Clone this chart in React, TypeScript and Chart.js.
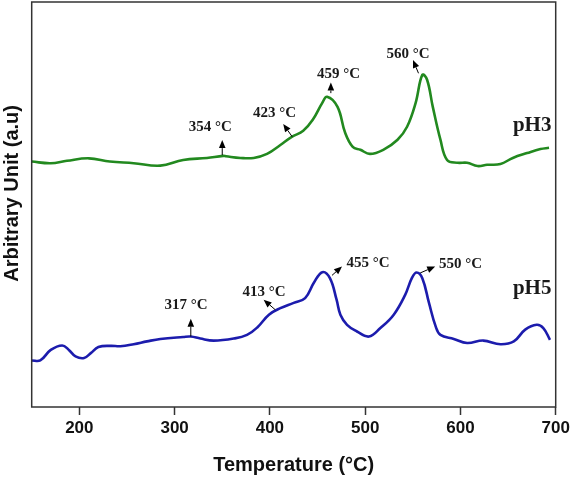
import { useEffect, useRef } from 'react';
import { Chart, registerables } from 'chart.js';

Chart.register(...registerables);

// ---- data ----
const X_TICKS = [200, 300, 400, 500, 600, 700];

const PH3_TEMP = [150, 170, 187, 210, 232, 257, 285, 309, 334, 351, 354, 369, 383, 397, 411, 423, 435, 445, 455, 460, 471, 479, 487, 495, 505, 519, 534, 544, 553, 560, 565, 571, 579, 586, 597, 607, 618, 628, 642, 655, 670, 684, 693];
const PH3_SIGNAL = [60.6, 60.2, 60.8, 61.4, 60.6, 60.2, 59.6, 61.0, 61.5, 62.0, 61.9, 61.5, 61.5, 62.5, 64.7, 66.7, 68.2, 70.9, 75.1, 76.6, 74.1, 67.7, 64.2, 63.5, 62.5, 63.5, 66.0, 69.2, 75.1, 82.0, 80.8, 74.1, 66.0, 61.0, 60.3, 60.3, 59.5, 59.8, 60.0, 61.5, 62.7, 63.7, 64.0];

const PH5_TEMP = [150, 159, 170, 182, 189, 196, 205, 212, 220, 233, 243, 257, 271, 285, 309, 317, 327, 341, 362, 376, 387, 399, 411, 425, 437, 446, 455, 463, 470, 474, 481, 491, 504, 516, 530, 542, 549, 554, 560, 567, 574, 579, 593, 607, 624, 642, 656, 668, 680, 687, 694];
const PH5_SIGNAL = [11.5, 11.5, 14.1, 15.2, 14.1, 12.5, 12.1, 13.3, 14.8, 15.1, 15.0, 15.5, 16.2, 16.8, 17.3, 17.4, 16.9, 16.4, 16.9, 17.8, 19.7, 22.8, 24.4, 25.7, 26.9, 30.6, 33.3, 31.8, 26.5, 22.8, 20.3, 18.7, 17.4, 19.5, 22.8, 27.7, 31.8, 33.2, 31.8, 25.7, 19.9, 17.8, 16.8, 15.8, 16.4, 15.5, 16.2, 19.1, 20.3, 19.5, 16.6];

// peak annotations (text anchored in data units)
const PEAK_TEXT = ['354 °C', '423 °C', '459 °C', '560 °C', '317 °C', '413 °C', '455 °C', '550 °C'];
const PEAK_TEXT_T = [337.5, 405, 472, 545, 312, 394, 503, 600];
const PEAK_TEXT_S = [69.2, 72.6, 82.2, 87.2, 25.1, 28.3, 35.6, 35.4];
const ARROW_FROM_T = [350, 423.5, 464, 556, 317, 405.7, 465.2, 557.8];
const ARROW_FROM_S = [62.2, 66.7, 77.5, 82.4, 17.4, 24.0, 32.5, 33.1];
const ARROW_TO_T = [350, 414, 464, 550.2, 317, 393.4, 475.7, 573.5];
const ARROW_TO_S = [65.9, 69.9, 80.1, 85.7, 21.8, 26.5, 34.7, 34.7];

const SERIES_NAMES = ['pH3', 'pH5'];
const SERIES_NAME_T = [675.3, 675.3];
const SERIES_NAME_S = [69.4, 29.2];

const SANS = "Arial, 'Liberation Sans', sans-serif";
const SERIF = "'Times New Roman', 'Liberation Serif', serif";

const framePlugin = {
  id: 'frame',
  afterDraw(chart: any) {
    const { ctx, chartArea: a } = chart;
    ctx.save();
    ctx.strokeStyle = '#333';
    ctx.lineWidth = 1.5;
    ctx.strokeRect(a.left, a.top, a.right - a.left, a.bottom - a.top);
    ctx.restore();
  },
};

const notesPlugin = {
  id: 'notes',
  afterDatasetsDraw(chart: any) {
    const { ctx } = chart;
    const xs = chart.scales.x;
    const ys = chart.scales.y;
    ctx.save();
    ctx.strokeStyle = '#000';
    ctx.fillStyle = '#000';
    ctx.lineWidth = 1;
    for (let i = 0; i < ARROW_FROM_T.length; i++) {
      const x0 = xs.getPixelForValue(ARROW_FROM_T[i]);
      const y0 = ys.getPixelForValue(ARROW_FROM_S[i]);
      const x1 = xs.getPixelForValue(ARROW_TO_T[i]);
      const y1 = ys.getPixelForValue(ARROW_TO_S[i]);
      const ang = Math.atan2(y1 - y0, x1 - x0);
      const hl = 8;
      const hw = 3.3;
      const bx = x1 - hl * Math.cos(ang);
      const by = y1 - hl * Math.sin(ang);
      ctx.beginPath();
      ctx.moveTo(x0, y0);
      ctx.lineTo(bx, by);
      ctx.stroke();
      ctx.beginPath();
      ctx.moveTo(x1, y1);
      ctx.lineTo(bx + hw * Math.sin(ang), by - hw * Math.cos(ang));
      ctx.lineTo(bx - hw * Math.sin(ang), by + hw * Math.cos(ang));
      ctx.closePath();
      ctx.fill();
    }
    ctx.fillStyle = '#1a1a1a';
    ctx.textAlign = 'center';
    ctx.textBaseline = 'middle';
    ctx.font = `bold 15px ${SERIF}`;
    for (let i = 0; i < PEAK_TEXT.length; i++) {
      ctx.fillText(PEAK_TEXT[i], xs.getPixelForValue(PEAK_TEXT_T[i]), ys.getPixelForValue(PEAK_TEXT_S[i]));
    }
    ctx.font = `bold 21px ${SERIF}`;
    for (let i = 0; i < SERIES_NAMES.length; i++) {
      ctx.fillText(SERIES_NAMES[i], xs.getPixelForValue(SERIES_NAME_T[i]), ys.getPixelForValue(SERIES_NAME_S[i]));
    }
    ctx.restore();
  },
};

export default function App() {
  const ref = useRef<HTMLCanvasElement | null>(null);

  useEffect(() => {
    if (!ref.current) return;
    const chart = new Chart(ref.current, {
      type: 'line',
      data: {
        datasets: [
          {
            label: 'pH3',
            data: PH3_TEMP.map((t, i) => ({ x: t, y: PH3_SIGNAL[i] })),
            borderColor: '#22891f',
            borderWidth: 2.6,
            pointRadius: 0,
            tension: 0.4,
            fill: false,
          },
          {
            label: 'pH5',
            data: PH5_TEMP.map((t, i) => ({ x: t, y: PH5_SIGNAL[i] })),
            borderColor: '#1c1cad',
            borderWidth: 2.6,
            pointRadius: 0,
            tension: 0.4,
            fill: false,
          },
        ],
      },
      options: {
        responsive: false,
        animation: false,
        events: [],
        layout: { padding: { top: 2, left: 0, right: 0, bottom: 0 } },
        plugins: { legend: { display: false }, tooltip: { enabled: false } },
        scales: {
          x: {
            type: 'linear',
            min: 150,
            max: 700,
            afterBuildTicks: (s: any) => {
              s.ticks = X_TICKS.map((v) => ({ value: v }));
            },
            afterFit: (s: any) => {
              s.height = 70;
              s.paddingLeft = 0;
              s.paddingRight = 14.3;
            },
            grid: {
              display: true,
              drawOnChartArea: false,
              drawTicks: true,
              tickLength: 8,
              color: '#333',
              tickWidth: 1.5,
            },
            border: { display: false },
            ticks: {
              color: '#111',
              padding: 3,
              font: { family: SANS, size: 17, weight: 'bold' },
              maxRotation: 0,
            },
            title: {
              display: true,
              text: 'Temperature (°C)',
              color: '#111',
              padding: 0,
              font: { family: SANS, size: 20, weight: 'bold' },
            },
          },
          y: {
            type: 'linear',
            min: 0,
            max: 100,
            afterFit: (s: any) => {
              s.width = 31.7;
            },
            grid: { display: false },
            border: { display: false },
            ticks: { display: false },
            title: {
              display: true,
              text: '    Arbitrary Unit (a.u)',
              color: '#111',
              padding: 0,
              font: { family: SANS, size: 20, weight: 'bold' },
            },
          },
        },
      },
      plugins: [framePlugin, notesPlugin],
    } as any);
    return () => chart.destroy();
  }, []);

  return (
    <div style={{ position: 'fixed', left: 0, top: 0, width: 570, height: 477, background: '#fff' }}>
      <canvas ref={ref} width={570} height={477} />
    </div>
  );
}
